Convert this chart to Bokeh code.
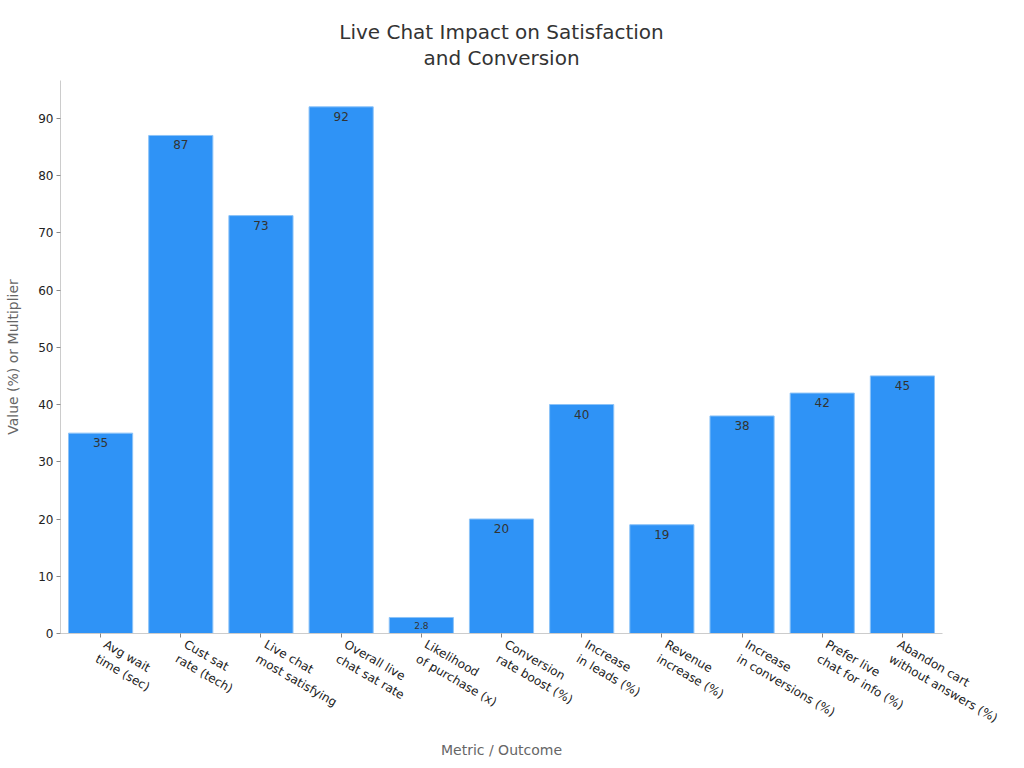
from bokeh.plotting import figure
from bokeh.models import ColumnDataSource, Range1d, LabelSet, Title
from bokeh.core.properties import value
from bokeh.embed import file_html
from bokeh.resources import INLINE
import math

title_lines = ["Live Chat Impact on Satisfaction", "and Conversion"]
categories = [
    "Avg wait\ntime (sec)",
    "Cust sat\nrate (tech)",
    "Live chat\nmost satisfying",
    "Overall live\nchat sat rate",
    "Likelihood\nof purchase (x)",
    "Conversion\nrate boost (%)",
    "Increase\nin leads (%)",
    "Revenue\nincrease (%)",
    "Increase\nin conversions (%)",
    "Prefer live\nchat for info (%)",
    "Abandon cart\nwithout answers (%)",
]
values = [35, 87, 73, 92, 2.8, 20, 40, 19, 38, 42, 45]
value_labels = ["35", "87", "73", "92", "2.8", "20", "40", "19", "38", "42", "45"]
label_sizes = ["12px" if v >= 5 else "9px" for v in values]

FONT = "DejaVu Sans"

src = ColumnDataSource(dict(cat=categories, val=values, lab=value_labels, size=label_sizes))

p = figure(x_range=categories, width=1008, height=760, output_backend="svg",
           toolbar_location=None, min_border_left=60, min_border_right=66,
           min_border_top=80, min_border_bottom=0)
p.y_range = Range1d(0, max(values) * 1.05)

# Two centred title lines (later-added goes further from plot)
p.add_layout(Title(text=title_lines[1], align="center", text_font=FONT,
                   text_font_size="20px", text_font_style="normal",
                   text_color="#333333", standoff=17, vertical_align="top"), "above")
p.add_layout(Title(text=title_lines[0], align="center", text_font=FONT,
                   text_font_size="20px", text_font_style="normal",
                   text_color="#333333", standoff=-13, vertical_align="bottom"), "above")

p.vbar(x="cat", top="val", width=0.8, source=src, fill_color="#2f93f6",
       line_color="#8cc3f8", line_width=1)

labels = LabelSet(x="cat", y="val", text="lab", source=src, text_align="center",
                  text_baseline="top", y_offset=-5, text_font_size="size",
                  text_color="#333333", text_font=value(FONT))
p.add_layout(labels)

p.xgrid.visible = False
p.ygrid.visible = False
p.outline_line_color = None

for ax in (p.xaxis, p.yaxis):
    ax.axis_line_color = "#cccccc"
    ax.major_tick_line_color = "#888888"
    ax.major_tick_out = 4
    ax.major_tick_in = 0
    ax.minor_tick_line_color = None
    ax.major_label_text_font = FONT
    ax.major_label_text_font_size = "12px"
    ax.major_label_text_color = "#222222"
    ax.axis_label_text_font = FONT
    ax.axis_label_text_font_size = "14px"
    ax.axis_label_text_font_style = "normal"
    ax.axis_label_text_color = "#666666"

p.xaxis.major_label_orientation = -math.radians(30)
p.xaxis.major_label_standoff = 13
p.xaxis.axis_label_standoff = 0
p.yaxis.major_label_standoff = 3
p.yaxis.axis_label_standoff = 14
p.xaxis.axis_label = "Metric / Outcome"
p.yaxis.axis_label = "Value (%) or Multiplier"
p.yaxis.ticker.desired_num_ticks = 10
p.x_range.range_padding = 0.0

open("out.html", "w").write(file_html(p, INLINE))
